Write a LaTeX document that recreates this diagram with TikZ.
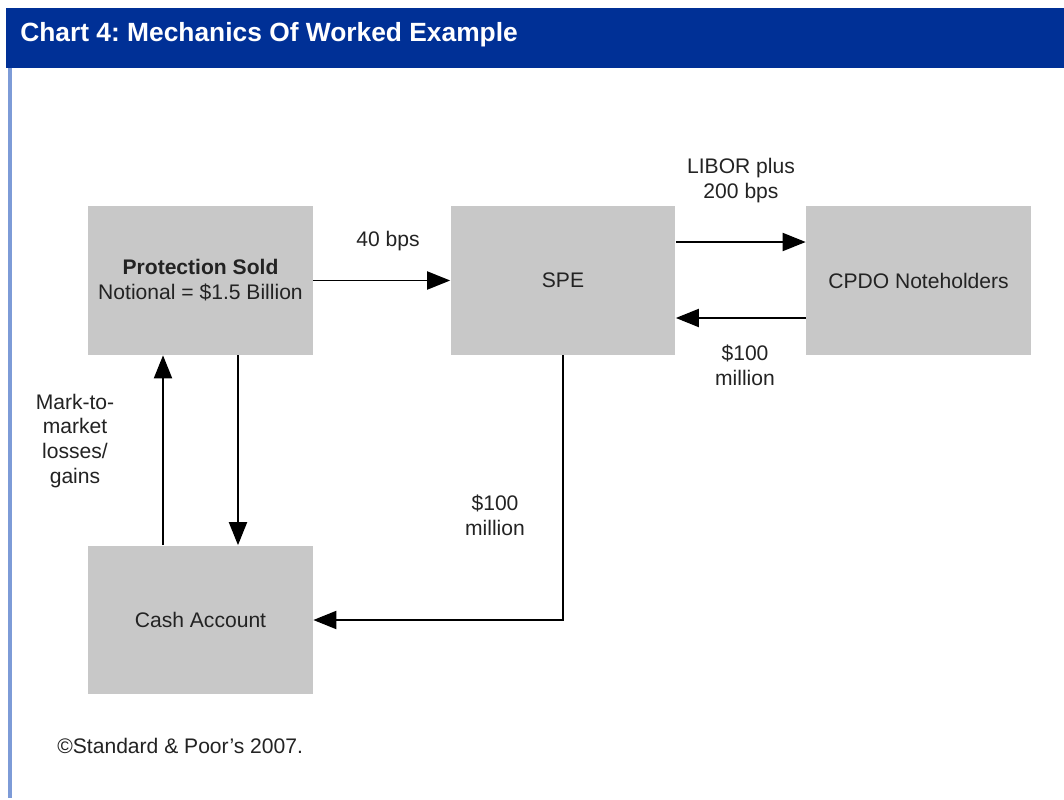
\documentclass[tikz,border=0pt]{standalone}
\usepackage{fontspec}
\setmainfont{Liberation Sans}
\usepackage{tikz}
\usetikzlibrary{arrows.meta}
\pgfdeclarelayer{bglayer}
\pgfdeclarelayer{edgelayer}
\pgfdeclarelayer{nodelayer}
\pgfsetlayers{bglayer,edgelayer,nodelayer,main}
\definecolor{headblue}{RGB}{0,48,150}
\definecolor{rimblue}{RGB}{125,155,215}
\definecolor{boxgray}{RGB}{200,200,200}
\definecolor{inkgray}{RGB}{35,35,35}
\tikzstyle{box}=[rectangle, fill=boxgray, text=inkgray, minimum width=4.5cm, minimum height=2.98cm, inner sep=0pt, align=center, font=\fontsize{12}{14.2}\selectfont]
\tikzstyle{lbl}=[text=inkgray, align=center, inner sep=0pt, font=\fontsize{12}{14.2}\selectfont]
\tikzstyle{flow}=[draw=black, line width=1.1pt, -{Triangle[length=0.46cm,width=0.36cm]}]
\frenchspacing

\begin{document}
\begin{tikzpicture}[x=0.02cm, y=-0.02cm]
	\begin{pgfonlayer}{bglayer}
		\fill [white] (0, 0) rectangle (1064, 798);
		\fill [headblue] (6, 8) rectangle (1064, 68);
		\draw [rimblue, line width=0.08cm] (10, 68) -- (10, 798);
	\end{pgfonlayer}
	\useasboundingbox (0, 0) rectangle (1064, 798);
	\node [anchor=base west, text=white, inner sep=0pt, font=\fontsize{15}{18}\bfseries] (0) at (20, 42) {Chart 4: Mechanics Of Worked Example};
	\begin{pgfonlayer}{nodelayer}
		\node [style=box] (1) at (200.5, 280.5) {\textbf{Protection Sold}\\Notional = \$1.5 Billion};
		\node [style=box] (2) at (563, 280.5) {SPE};
		\node [style=box] (3) at (918.5, 280.5) {CPDO Noteholders};
		\node [style=box] (4) at (200.5, 620) {Cash Account};
		\node [style=lbl] (5) at (388, 241) {40 bps};
		\node [style=lbl] (6) at (741, 181) {LIBOR plus\\200 bps};
		\node [style=lbl] (7) at (745, 365) {\$100\\million};
		\node [style=lbl] (8) at (495, 515) {\$100\\million};
		\node [style=lbl] (9) at (75, 441) {Mark-to-\\market\\losses/\\gains};
		\node [style=lbl, anchor=west] (10) at (57, 746) {\textcopyright Standard \& Poor’s 2007.};
	\end{pgfonlayer}
	\begin{pgfonlayer}{edgelayer}
		\draw [style=flow] (1) to (2);
		\draw [style=flow] ([yshift=0.77cm]2.east) to ([yshift=0.77cm]3.west);
		\draw [style=flow] ([yshift=-0.75cm]3.west) to ([yshift=-0.75cm]2.east);
		\draw [style=flow] (2.south) |- (4.east);
		\draw [style=flow] ([xshift=0.75cm]1.south) to ([xshift=0.75cm]4.north);
		\draw [style=flow] ([xshift=-0.75cm]4.north) to ([xshift=-0.75cm]1.south);
	\end{pgfonlayer}
\end{tikzpicture}
\end{document}
